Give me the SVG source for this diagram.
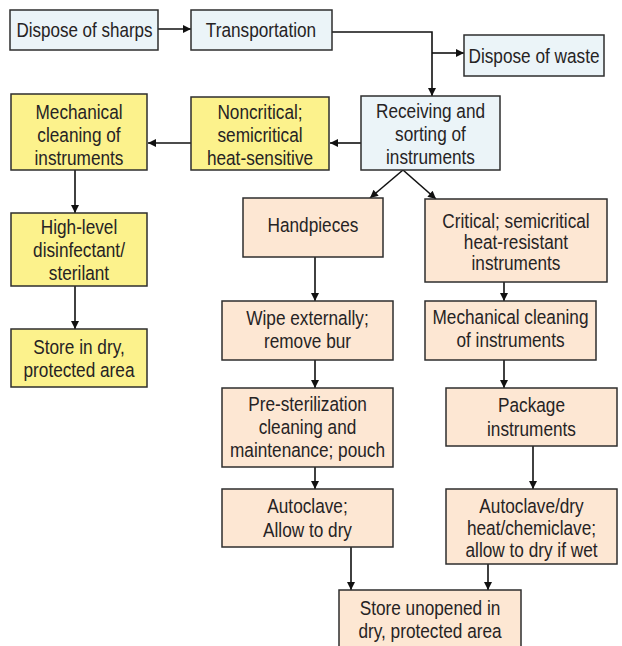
<svg xmlns="http://www.w3.org/2000/svg" width="622" height="646" viewBox="0 0 622 646">
<style>
  .box { stroke: #2e2e2e; stroke-width: 1.5; }
  .blue { fill: #ebf4f8; }
  .yellow { fill: #fcf28c; }
  .peach { fill: #fde7d3; }
  text { font-family: "Liberation Sans", Arial, sans-serif; font-size: 20.5px; fill: #262324; text-anchor: middle; }
  .conn path { fill: none; stroke: #111; stroke-width: 1.6; marker-end: url(#arrow); }
</style>
<defs>
  <marker id="arrow" viewBox="0 0 10 10" refX="10" refY="5" markerUnits="userSpaceOnUse" markerWidth="11" markerHeight="8" orient="auto">
    <path d="M0,0 L10,5 L0,10 z" fill="#111"/>
  </marker>
</defs>
<rect width="622" height="646" fill="#ffffff"/>

<g id="connectors" class="conn">
  <path d="M158,29 H191"/>
  <path d="M332,32 H432 V96"/>
  <path d="M432,53 H464"/>
  <path d="M361,143 H330"/>
  <path d="M191,143 H148"/>
  <path d="M75,170 V213"/>
  <path d="M75,286 V329"/>
  <path d="M403,170 L370,198"/>
  <path d="M403,170 L436,199"/>
  <path d="M315,257 V301"/>
  <path d="M504,282 V301"/>
  <path d="M315,360 V388"/>
  <path d="M504,360 V388"/>
  <path d="M315,467 V489"/>
  <path d="M533,446 V489"/>
  <path d="M351,547 V590"/>
  <path d="M488,564 V590"/>
</g>

<g id="sharps">
  <rect class="box blue" x="10" y="10" width="148" height="40"/>
  <text transform="translate(84.5 37) scale(0.83 1)">Dispose of sharps</text>
</g>
<g id="transportation">
  <rect class="box blue" x="191" y="10" width="141" height="40"/>
  <text transform="translate(261 37) scale(0.84 1)">Transportation</text>
</g>
<g id="waste">
  <rect class="box blue" x="464" y="35" width="140" height="41"/>
  <text transform="translate(534 63) scale(0.84 1)">Dispose of waste</text>
</g>
<g id="receiving">
  <rect class="box blue" x="361" y="96" width="139" height="74"/>
  <text transform="translate(430.5 118) scale(0.84 1)">Receiving and</text>
  <text transform="translate(430.5 141) scale(0.84 1)">sorting of</text>
  <text transform="translate(430.5 164) scale(0.84 1)">instruments</text>
</g>
<g id="noncritical">
  <rect class="box yellow" x="191" y="97" width="138" height="73"/>
  <text transform="translate(260 119) scale(0.84 1)">Noncritical;</text>
  <text transform="translate(260 142) scale(0.84 1)">semicritical</text>
  <text transform="translate(260 165) scale(0.84 1)">heat-sensitive</text>
</g>
<g id="mech-left">
  <rect class="box yellow" x="11" y="94" width="136" height="76"/>
  <text transform="translate(79 119) scale(0.84 1)">Mechanical</text>
  <text transform="translate(79 142) scale(0.84 1)">cleaning of</text>
  <text transform="translate(79 165) scale(0.84 1)">instruments</text>
</g>
<g id="high-level">
  <rect class="box yellow" x="11" y="213" width="136" height="73"/>
  <text transform="translate(79 234) scale(0.84 1)">High-level</text>
  <text transform="translate(79 257) scale(0.84 1)">disinfectant/</text>
  <text transform="translate(79 280) scale(0.84 1)">sterilant</text>
</g>
<g id="store-dry">
  <rect class="box yellow" x="11" y="329" width="136" height="58"/>
  <text transform="translate(79 354) scale(0.84 1)">Store in dry,</text>
  <text transform="translate(79 377) scale(0.84 1)">protected area</text>
</g>
<g id="handpieces">
  <rect class="box peach" x="243" y="198" width="140" height="59"/>
  <text transform="translate(313 232) scale(0.84 1)">Handpieces</text>
</g>
<g id="critical">
  <rect class="box peach" x="425" y="199" width="182" height="83"/>
  <text transform="translate(516 228) scale(0.84 1)">Critical; semicritical</text>
  <text transform="translate(516 249) scale(0.84 1)">heat-resistant</text>
  <text transform="translate(516 270) scale(0.84 1)">instruments</text>
</g>
<g id="wipe">
  <rect class="box peach" x="222" y="301" width="171" height="59"/>
  <text transform="translate(307.5 325) scale(0.84 1)">Wipe externally;</text>
  <text transform="translate(307.5 348) scale(0.84 1)">remove bur</text>
</g>
<g id="mech-right">
  <rect class="box peach" x="425" y="301" width="171" height="59"/>
  <text transform="translate(510.5 324) scale(0.84 1)">Mechanical cleaning</text>
  <text transform="translate(510.5 347) scale(0.84 1)">of instruments</text>
</g>
<g id="pre-sterilization">
  <rect class="box peach" x="222" y="388" width="171" height="79"/>
  <text transform="translate(307.5 411) scale(0.84 1)">Pre-sterilization</text>
  <text transform="translate(307.5 434) scale(0.84 1)">cleaning and</text>
  <text transform="translate(307.5 457) scale(0.84 1)">maintenance; pouch</text>
</g>
<g id="package">
  <rect class="box peach" x="446" y="388" width="171" height="58"/>
  <text transform="translate(531.5 412) scale(0.84 1)">Package</text>
  <text transform="translate(531.5 436) scale(0.84 1)">instruments</text>
</g>
<g id="autoclave">
  <rect class="box peach" x="222" y="489" width="171" height="58"/>
  <text transform="translate(307.5 513) scale(0.84 1)">Autoclave;</text>
  <text transform="translate(307.5 537) scale(0.84 1)">Allow to dry</text>
</g>
<g id="autoclave-dry">
  <rect class="box peach" x="446" y="489" width="171" height="75"/>
  <text transform="translate(531.5 513) scale(0.84 1)">Autoclave/dry</text>
  <text transform="translate(531.5 535) scale(0.84 1)">heat/chemiclave;</text>
  <text transform="translate(531.5 557) scale(0.84 1)">allow to dry if wet</text>
</g>
<g id="store-unopened">
  <rect class="box peach" x="339" y="590" width="182" height="62"/>
  <text transform="translate(430 615) scale(0.84 1)">Store unopened in</text>
  <text transform="translate(430 638) scale(0.84 1)">dry, protected area</text>
</g>
</svg>
